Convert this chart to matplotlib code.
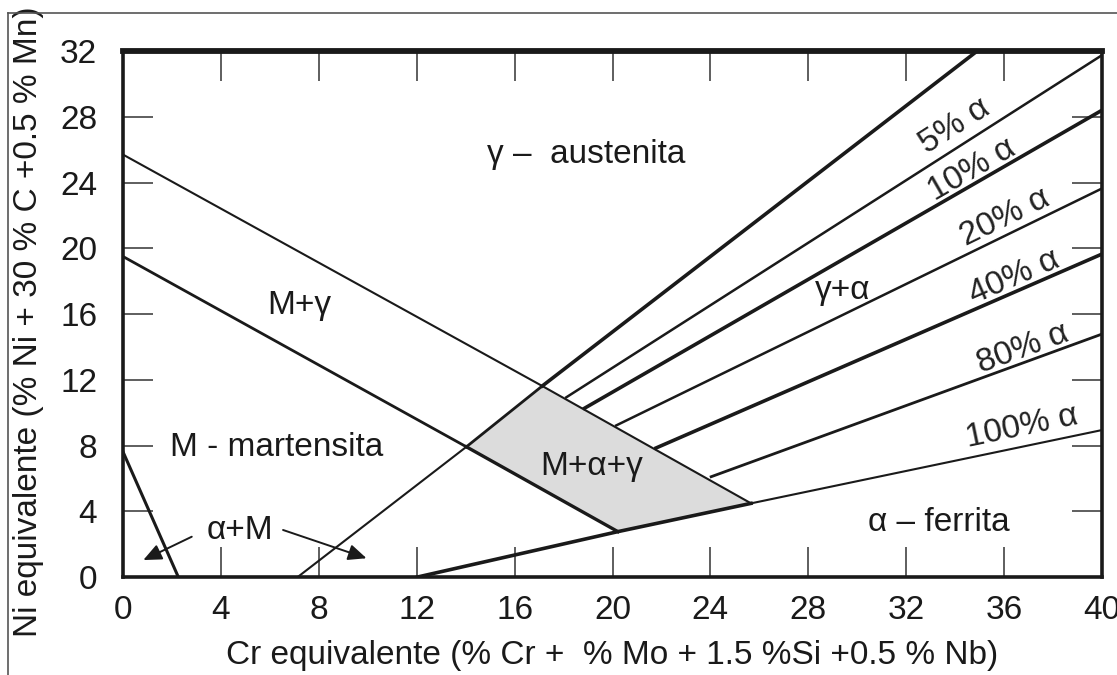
import matplotlib
matplotlib.use('Agg')
import matplotlib.pyplot as plt
import numpy as np
from matplotlib.lines import Line2D

# ---------------- data ----------------
x_ticks = [0, 4, 8, 12, 16, 20, 24, 28, 32, 36, 40]
y_ticks = [0, 4, 8, 12, 16, 20, 24, 28, 32]

# upper M / M+gamma boundary
cr_upper = [0.0, 17.13, 25.66]
ni_upper = [25.7, 11.62, 4.48]
# lower M boundary
cr_lower = [0.0, 14.03, 20.22]
ni_lower = [19.5, 7.92, 2.76]
# alpha + M steep line
cr_alpha_m = [0.0, 2.26]
ni_alpha_m = [7.62, 0.0]
# austenite / gamma+alpha boundary (0 % ferrite)
cr_austenite = [7.14, 14.03, 17.13, 34.9]
ni_austenite = [0.0, 7.92, 11.62, 32.0]
# 100 % ferrite boundary
cr_ferrite = [12.04, 20.22, 25.66, 40.0]
ni_ferrite = [0.0, 2.76, 4.48, 8.94]
# iso-ferrite lines
ferrite_pct = ['5%', '10%', '20%', '40%', '80%']
iso_cr_start = [18.11, 18.86, 20.15, 21.78, 24.03]
iso_ni_start = [10.93, 10.27, 9.22, 7.85, 6.10]
iso_cr_end = [40.0, 40.0, 40.0, 40.0, 40.0]
iso_ni_end = [31.75, 28.4, 23.64, 19.65, 14.78]

# ---------------- figure ----------------
plt.rcParams['font.family'] = ['Liberation Sans', 'DejaVu Sans']
FS = 24
INK = '#1a1a1a'

fig = plt.figure(figsize=(11.17, 6.75), dpi=100)
ax = fig.add_axes([0.1101, 0.1452, 0.8765, 0.7792])
ax.set_xlim(0, 40)
ax.set_ylim(0, 32)

# shaded M+alpha+gamma region
poly_x = [cr_lower[1], cr_upper[1], cr_upper[2], cr_lower[2]]
poly_y = [ni_lower[1], ni_upper[1], ni_upper[2], ni_lower[2]]
ax.fill(poly_x, poly_y, color='#dcdcdc', zorder=1, lw=0)

thin, mid, thick = 1.5, 2.0, 2.6
ax.plot(cr_upper, ni_upper, color=INK, lw=thin, zorder=3)
ax.plot(cr_lower[:2], ni_lower[:2], color=INK, lw=mid, zorder=3)
ax.plot(cr_lower[1:], ni_lower[1:], color=INK, lw=2.4, zorder=3)
ax.plot(cr_alpha_m, ni_alpha_m, color=INK, lw=2.2, zorder=3)
ax.plot(cr_austenite[:2], ni_austenite[:2], color=INK, lw=thin, zorder=3)
ax.plot(cr_austenite[1:3], ni_austenite[1:3], color=INK, lw=mid, zorder=3)
ax.plot(cr_austenite[2:], ni_austenite[2:], color=INK, lw=thick, zorder=3)
ax.plot(cr_ferrite[:3], ni_ferrite[:3], color=INK, lw=thick, zorder=3)
ax.plot(cr_ferrite[2:], ni_ferrite[2:], color=INK, lw=thin, zorder=3)

iso_lw = [1.8, 2.6, 1.8, 2.6, 2.0]
for xs, ys, xe, ye, w in zip(iso_cr_start, iso_ni_start, iso_cr_end, iso_ni_end, iso_lw):
    ax.plot([xs, xe], [ys, ye], color=INK, lw=w, zorder=3)

# iso-ferrite labels (parallel to their lines)
iso_label_pos = [(33.99, 27.4), (34.7, 24.76), (36.03, 21.9), (36.4, 18.27), (36.78, 13.9)]
for pct, xs, ys, xe, ye, (lx, ly) in zip(ferrite_pct, iso_cr_start, iso_ni_start,
                                          iso_cr_end, iso_ni_end, iso_label_pos):
    ang = np.degrees(np.arctan2(ye - ys, xe - xs))
    ax.text(lx, ly, pct + ' α', fontsize=FS, color='#222', ha='center', va='center',
            rotation=ang, rotation_mode='anchor', transform_rotates_text=True, zorder=4)
ang100 = np.degrees(np.arctan2(ni_ferrite[3] - ni_ferrite[2], cr_ferrite[3] - cr_ferrite[2]))
ax.text(36.73, 9.1, '100% α', fontsize=FS, color='#222', ha='center', va='center',
        rotation=ang100, rotation_mode='anchor', transform_rotates_text=True, zorder=4)

# region labels
ax.text(18.94, 25.7, 'γ –  austenita', fontsize=FS, color=INK, ha='center', va='center')
ax.text(7.22, 16.5, 'M+γ', fontsize=FS, color=INK, ha='center', va='center')
ax.text(6.29, 7.9, 'M - martensita', fontsize=FS, color=INK, ha='center', va='center')
ax.text(4.78, 2.8, 'α+M', fontsize=FS, color=INK, ha='center', va='center')
ax.text(19.14, 6.7, 'M+α+γ', fontsize=FS, color=INK, ha='center', va='center', zorder=4)
ax.text(29.4, 17.4, 'γ+α', fontsize=FS, color=INK, ha='center', va='center')
ax.text(33.35, 3.3, 'α – ferrita', fontsize=FS, color=INK, ha='center', va='center')

arrow_kw = dict(arrowstyle='-|>,head_length=0.5,head_width=0.22', color=INK, lw=1.4,
                mutation_scale=22, shrinkA=0, shrinkB=0)
ax.annotate('', xy=(0.83, 1.03), xytext=(2.81, 2.45), arrowprops=arrow_kw)
ax.annotate('', xy=(9.95, 1.14), xytext=(6.54, 2.86), arrowprops=arrow_kw)

# axes styling
ax.set_xticks(x_ticks)
ax.set_yticks(y_ticks)
ax.set_xticklabels([str(v) for v in x_ticks])
ax.set_yticklabels([str(v) for v in y_ticks])
ax.tick_params(axis='both', direction='in', length=21.5, width=1.1, colors='#333',
               labelsize=FS, labelcolor=INK, top=True, right=True)
ax.tick_params(axis='x', pad=13)
ax.tick_params(axis='y', pad=18.5)
for side in ['left', 'right', 'bottom']:
    ax.spines[side].set_linewidth(2.6)
    ax.spines[side].set_color(INK)
ax.spines['top'].set_linewidth(4.2)
ax.spines['top'].set_color(INK)

ax.set_xlabel('Cr equivalente (% Cr +  % Mo + 1.5 %Si +0.5 % Nb)', fontsize=FS,
              color=INK, va='center')
ax.xaxis.set_label_coords(0.5, -0.150)
ax.set_ylabel('Ni equivalente (% Ni + 30 % C +0.5 % Mn)', fontsize=FS,
              color=INK, va='center')
ax.yaxis.set_label_coords(-0.0966, 0.485)

# page frame (top and left edges visible in the reference)
fig.add_artist(Line2D([0.0074, 1.0], [0.9812, 0.9812], transform=fig.transFigure,
                      color='#555', lw=1.2))
fig.add_artist(Line2D([0.0074, 0.0074], [0.0, 0.9812], transform=fig.transFigure,
                      color='#555', lw=1.2))

fig.savefig('out.png', dpi=100)
